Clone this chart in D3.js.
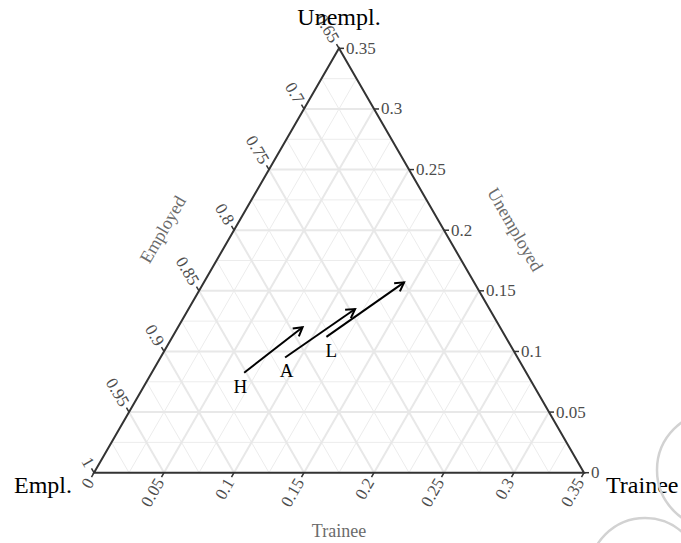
<!DOCTYPE html>
<html><head><meta charset="utf-8">
<script src="https://cdn.jsdelivr.net/npm/d3@7"></script>
<style>body{margin:0;background:#fff}svg{display:block}</style>
</head><body>
<svg id="chart" width="681" height="543"></svg>
<script>
// ---- data ----
const traineeTicks = [0, 0.05, 0.1, 0.15, 0.2, 0.25, 0.3, 0.35];
const traineeTickLabels = ["0", "0.05", "0.1", "0.15", "0.2", "0.25", "0.3", "0.35"];
const unempTicks = [0, 0.05, 0.1, 0.15, 0.2, 0.25, 0.3, 0.35];
const unempTickLabels = ["0", "0.05", "0.1", "0.15", "0.2", "0.25", "0.3", "0.35"];
const emplTicks = [0.65, 0.7, 0.75, 0.8, 0.85, 0.9, 0.95, 1];
const emplTickLabels = ["0.65", "0.7", "0.75", "0.8", "0.85", "0.9", "0.95", "1"];
const minorSteps = [0.025, 0.075, 0.125, 0.175, 0.225, 0.275, 0.325];
const majorSteps = [0.05, 0.1, 0.15, 0.2, 0.25, 0.3];

const groups = ["H", "A", "L"];
const startTrainee = [0.066, 0.089, 0.110];
const startUnemp   = [0.0825, 0.095, 0.112];
const endTrainee   = [0.089, 0.119, 0.143];
const endUnemp     = [0.120, 0.135, 0.157];
const labelTrainee = [0.069, 0.0956, 0.119];
const labelUnemp   = [0.071, 0.084, 0.101];

const vertexLabels = ["Empl.", "Unempl.", "Trainee"];
const axisTitles = ["Employed", "Unemployed", "Trainee"];

// ---- geometry ----
const svg = d3.select("#chart");
const x0 = 94, y0 = 472.7, W = 490;
const H = W * Math.sqrt(3) / 2;
const tScale = d3.scaleLinear().domain([0, 0.35]).range([0, W]);
const uScale = d3.scaleLinear().domain([0, 0.35]).range([y0, y0 - H]);
function px(t, u) { return [x0 + tScale(t) + tScale(u) / 2, uScale(u)]; }
const font = "'Liberation Serif', 'Times New Roman', serif";

// ---- grid ----
const grid = svg.append("g");
function gridLines(steps, w, col) {
  steps.forEach(s => {
    const segs = [
      [px(0, s), px(0.35 - s, s)],        // constant unemployed
      [px(s, 0), px(s, 0.35 - s)],        // constant trainee
      [px(s, 0), px(0, s)]                // constant employed (t+u = s)
    ];
    segs.forEach(sg => grid.append("line")
      .attr("x1", sg[0][0]).attr("y1", sg[0][1])
      .attr("x2", sg[1][0]).attr("y2", sg[1][1])
      .attr("stroke", col).attr("stroke-width", w));
  });
}
gridLines(minorSteps, 1, "#ececec");
gridLines(majorSteps, 2, "#e8e8e8");

// ---- axes ----
const A = px(0, 0), B = px(0, 0.35), C = px(0.35, 0);
svg.append("path")
  .attr("d", `M${A[0]},${A[1]}L${B[0]},${B[1]}L${C[0]},${C[1]}Z`)
  .attr("fill", "none").attr("stroke", "#333").attr("stroke-width", 2)
  .attr("stroke-linejoin", "miter");

const tickCol = "#4d4d4d", tickLen = 5, labOff = 8, tickFs = 17;
// bottom axis: Trainee
const dB = [-0.5, Math.sqrt(3) / 2];
traineeTicks.forEach((t, i) => {
  const p = px(t, 0);
  svg.append("line").attr("x1", p[0]).attr("y1", p[1])
    .attr("x2", p[0] + dB[0] * tickLen).attr("y2", p[1] + dB[1] * tickLen)
    .attr("stroke", "#333").attr("stroke-width", 1.5);
  const lx = p[0] + dB[0] * labOff, ly = p[1] + dB[1] * labOff;
  svg.append("text").attr("x", lx).attr("y", ly)
    .attr("transform", `rotate(-60,${lx},${ly})`)
    .attr("text-anchor", "end").attr("dominant-baseline", "central")
    .attr("font-family", font).attr("font-size", tickFs).attr("fill", tickCol)
    .text(traineeTickLabels[i]);
});
// right axis: Unemployed
unempTicks.forEach((u, i) => {
  const p = px(0.35 - u, u);
  svg.append("line").attr("x1", p[0]).attr("y1", p[1])
    .attr("x2", p[0] + tickLen).attr("y2", p[1])
    .attr("stroke", "#333").attr("stroke-width", 1.5);
  svg.append("text").attr("x", p[0] + labOff - 1).attr("y", p[1])
    .attr("text-anchor", "start").attr("dominant-baseline", "central")
    .attr("font-family", font).attr("font-size", tickFs).attr("fill", tickCol)
    .text(unempTickLabels[i]);
});
// left axis: Employed
const dL = [-0.5, -Math.sqrt(3) / 2];
emplTicks.forEach((e, i) => {
  const p = px(0, 1 - e);
  svg.append("line").attr("x1", p[0]).attr("y1", p[1])
    .attr("x2", p[0] + dL[0] * tickLen).attr("y2", p[1] + dL[1] * tickLen)
    .attr("stroke", "#333").attr("stroke-width", 1.5);
  const lx = p[0] + dL[0] * labOff, ly = p[1] + dL[1] * labOff;
  svg.append("text").attr("x", lx).attr("y", ly)
    .attr("transform", `rotate(60,${lx},${ly})`)
    .attr("text-anchor", "end").attr("dominant-baseline", "central")
    .attr("font-family", font).attr("font-size", tickFs).attr("fill", tickCol)
    .text(emplTickLabels[i]);
});

// axis titles
const titleCol = "#6b6b6b", titleFs = 18;
const midL = px(0, 0.175), midR = px(0.175, 0.175), midB = px(0.175, 0);
const off = 62;
svg.append("text")
  .attr("transform", `translate(${midL[0] - 0.866 * off},${midL[1] - 0.5 * off}) rotate(-60)`)
  .attr("text-anchor", "middle").attr("dominant-baseline", "central")
  .attr("font-family", font).attr("font-size", titleFs).attr("fill", titleCol).text(axisTitles[0]);
svg.append("text")
  .attr("transform", `translate(${midR[0] + 0.866 * off},${midR[1] - 0.5 * off}) rotate(60)`)
  .attr("text-anchor", "middle").attr("dominant-baseline", "central")
  .attr("font-family", font).attr("font-size", titleFs).attr("fill", titleCol).text(axisTitles[1]);
svg.append("text")
  .attr("x", midB[0]).attr("y", midB[1] + 64)
  .attr("text-anchor", "middle")
  .attr("font-family", font).attr("font-size", titleFs).attr("fill", titleCol).text(axisTitles[2]);

// vertex labels
const vFs = 24;
svg.append("text").attr("x", A[0] - 22).attr("y", A[1] + 20).attr("text-anchor", "end")
  .attr("font-family", font).attr("font-size", vFs).attr("fill", "#000").text(vertexLabels[0]);
svg.append("text").attr("x", B[0]).attr("y", B[1] - 23).attr("text-anchor", "middle")
  .attr("font-family", font).attr("font-size", vFs).attr("fill", "#000").text(vertexLabels[1]);
svg.append("text").attr("x", C[0] + 22).attr("y", C[1] + 20).attr("text-anchor", "start")
  .attr("font-family", font).attr("font-size", vFs).attr("fill", "#000").text(vertexLabels[2]);

// ---- arrows ----
const ag = svg.append("g");
groups.forEach((g, i) => {
  const s = px(startTrainee[i], startUnemp[i]);
  const e = px(endTrainee[i], endUnemp[i]);
  ag.append("line").attr("x1", s[0]).attr("y1", s[1]).attr("x2", e[0]).attr("y2", e[1])
    .attr("stroke", "#000").attr("stroke-width", 2);
  const ang = Math.atan2(e[1] - s[1], e[0] - s[0]);
  const hl = 10, ha = Math.PI / 6;
  const p1 = [e[0] - hl * Math.cos(ang - ha), e[1] - hl * Math.sin(ang - ha)];
  const p2 = [e[0] - hl * Math.cos(ang + ha), e[1] - hl * Math.sin(ang + ha)];
  ag.append("path").attr("d", `M${p1[0]},${p1[1]}L${e[0]},${e[1]}L${p2[0]},${p2[1]}`)
    .attr("fill", "none").attr("stroke", "#000").attr("stroke-width", 2)
    .attr("stroke-linejoin", "miter");
  const l = px(labelTrainee[i], labelUnemp[i]);
  ag.append("text").attr("x", l[0]).attr("y", l[1])
    .attr("text-anchor", "middle").attr("dominant-baseline", "central")
    .attr("font-family", font).attr("font-size", 19).attr("fill", "#000").text(g);
});

// ---- watermark arcs ----
const wm = svg.append("g").attr("fill", "none").attr("stroke", "#d2d2d2").attr("stroke-width", 2.5);
wm.append("circle").attr("cx", 715).attr("cy", 470).attr("r", 58);
wm.append("circle").attr("cx", 645).attr("cy", 574).attr("r", 56);
</script>
</body></html>
